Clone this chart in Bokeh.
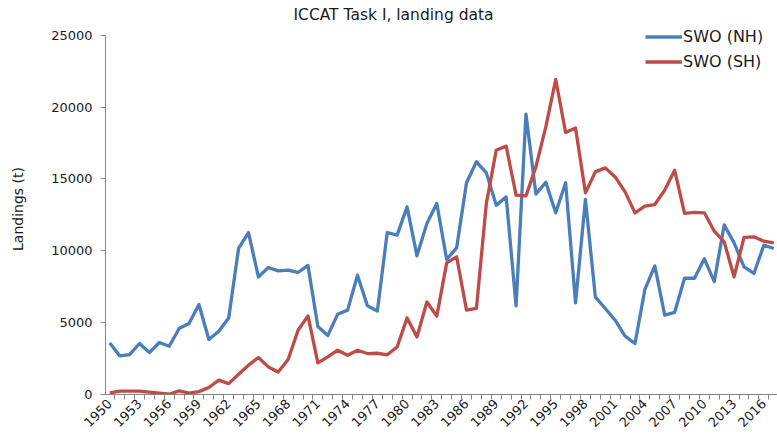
import math
from bokeh.plotting import figure
from bokeh.models import Range1d, FixedTicker, Legend, LegendItem
from bokeh.embed import file_html
from bokeh.resources import INLINE

years = list(range(1950, 2018))

swo_nh = [3590, 2690, 2780, 3550, 2920, 3620, 3360, 4590, 4940, 6260,
          3830, 4400, 5330, 10160, 11270, 8180, 8840, 8600, 8650, 8490,
          8980, 4730, 4100, 5590, 5870, 8300, 6170, 5800, 11270, 11090,
          13060, 9650, 11900, 13290, 9390, 10200, 14730, 16190, 15420, 13170,
          13750, 6170, 19510, 13940, 14770, 12640, 14730, 6380, 13570, 6790,
          5980, 5170, 4060, 3550, 7310, 8950, 5520, 5710, 8090, 8090,
          9440, 7860, 11800, 10550, 8880, 8420, 10390, 10160]

swo_sh = [110, 230, 230, 230, 160, 100, 20, 250, 100, 200,
          490, 1000, 760, 1410, 2040, 2570, 1920, 1570, 2440, 4470,
          5470, 2200, 2620, 3080, 2730, 3080, 2850, 2870, 2760, 3310,
          5330, 4010, 6440, 5450, 9160, 9580, 5870, 5990, 13290, 17000,
          17280, 13870, 13820, 15840, 18620, 21920, 18230, 18550, 14030, 15490,
          15770, 15140, 14100, 12640, 13100, 13220, 14220, 15610, 12600, 12670,
          12640, 11360, 10620, 8180, 10930, 10970, 10670, 10550]

x_tick_years = [1950, 1953, 1956, 1959, 1962, 1965, 1968, 1971, 1974, 1977,
                1980, 1983, 1986, 1989, 1992, 1995, 1998, 2001, 2004, 2007,
                2010, 2013, 2016]
y_ticks = [0, 5000, 10000, 15000, 20000, 25000]

series_names = ["SWO (NH)", "SWO (SH)"]
series_colors = ["#4A7EBB", "#BE4B48"]

FONT = "DejaVu Sans"
AXIS_COLOR = "#868686"
TEXT_COLOR = "#1a1a1a"

p = figure(width=777, height=437, output_backend="svg", toolbar_location=None,
           x_range=Range1d(1949.57, 2017.38), y_range=Range1d(0, 25814),
           min_border_left=105, min_border_right=0, min_border_top=23,
           min_border_bottom=43)

p.outline_line_color = None
p.xgrid.visible = False
p.ygrid.visible = False
p.background_fill_color = "white"
p.border_fill_color = "white"

p.title.text = "ICCAT Task I, landing data"
p.title.align = "left"
p.title.offset = 188
p.title.standoff = 0
p.title.text_font = FONT
p.title.text_font_size = "15.5px"
p.title.text_font_style = "normal"
p.title.text_color = TEXT_COLOR

r_nh = p.line(years, swo_nh, line_color=series_colors[0], line_width=3.3, line_join="round")
r_sh = p.line(years, swo_sh, line_color=series_colors[1], line_width=3.3, line_join="round")

# x axis: category-like (labels at category centres, ticks at boundaries)
xb = [y - 0.5 for y in years] + [years[-1] + 0.5]
p.xaxis.ticker = FixedTicker(ticks=x_tick_years, minor_ticks=xb)
p.xaxis.major_label_overrides = {y: str(y) for y in x_tick_years}
p.xaxis.major_label_orientation = math.pi / 4
p.xaxis.major_tick_out = 0
p.xaxis.major_tick_in = 0
p.xaxis.minor_tick_out = 5
p.xaxis.minor_tick_in = 0
p.xaxis.minor_tick_line_color = AXIS_COLOR
p.xaxis.axis_line_color = AXIS_COLOR
p.xaxis.major_label_text_font = FONT
p.xaxis.major_label_text_font_size = "13px"
p.xaxis.major_label_text_color = TEXT_COLOR
p.xaxis.major_label_standoff = 2

p.yaxis.ticker = FixedTicker(ticks=y_ticks, minor_ticks=[])
p.yaxis.bounds = (0, 25000)
p.yaxis.major_tick_out = 5
p.yaxis.major_tick_in = 0
p.yaxis.major_tick_line_color = AXIS_COLOR
p.yaxis.axis_line_color = AXIS_COLOR
p.yaxis.minor_tick_line_color = None
p.yaxis.major_label_text_font = FONT
p.yaxis.major_label_text_font_size = "13px"
p.yaxis.major_label_text_color = TEXT_COLOR
p.yaxis.major_label_standoff = 8
p.yaxis.axis_label = "Landings (t)"
p.yaxis.axis_label_text_font = FONT
p.yaxis.axis_label_text_font_size = "14px"
p.yaxis.axis_label_text_font_style = "normal"
p.yaxis.axis_label_text_color = TEXT_COLOR
p.yaxis.axis_label_standoff = 22

legend = Legend(items=[LegendItem(label=series_names[0], renderers=[r_nh]),
                       LegendItem(label=series_names[1], renderers=[r_sh])],
                location=(540, 320), orientation="vertical")
legend.glyph_width = 37
legend.glyph_height = 25
legend.label_height = 25
legend.label_standoff = 1
legend.spacing = 0
legend.padding = 0
legend.margin = 0
legend.border_line_color = None
legend.background_fill_alpha = 0
legend.label_text_font = FONT
legend.label_text_font_size = "16px"
legend.label_text_color = TEXT_COLOR
p.add_layout(legend, "center")

open("out.html", "w").write(file_html(p, INLINE))
